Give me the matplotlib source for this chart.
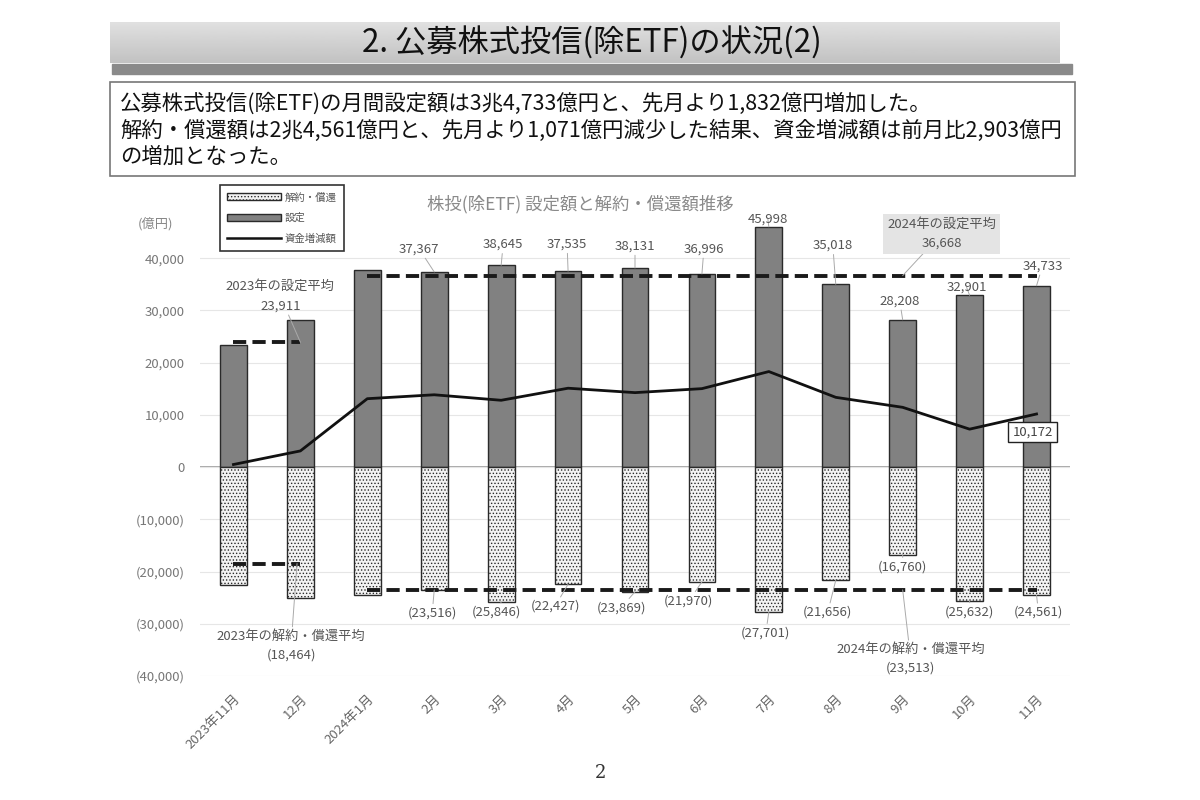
import matplotlib
matplotlib.use('Agg')
import matplotlib.pyplot as plt
from matplotlib.patches import Rectangle, Patch
from matplotlib.lines import Line2D
from matplotlib.ticker import FuncFormatter
import numpy as np

plt.rcParams['font.family'] = ['Noto Sans CJK JP', 'DejaVu Sans']
plt.rcParams['hatch.linewidth'] = 0.6
plt.rcParams['hatch.color'] = '#333333'

# data (億円)
months = ['2023年11月', '12月', '2024年1月', '2月', '3月', '4月', '5月',
          '6月', '7月', '8月', '9月', '10月', '11月']
settei = [23400, 28100, 37800, 37367, 38645, 37535, 38131, 36996, 45998,
          35018, 28208, 32901, 34733]
kaiyaku = [22600, 25000, 24500, 23516, 25846, 22427, 23869, 21970, 27701,
           21656, 16760, 25632, 24561]
net_flow = [500, 3100, 13100, 13851, 12799, 15108, 14262, 15026, 18297,
            13362, 11448, 7269, 10172]
avg_settei_2023 = 23911
avg_kaiyaku_2023 = 18464
avg_settei_2024 = 36668
avg_kaiyaku_2024 = 23513

# label placement (offset in pixels from bar end), only Feb..Nov 2024 labelled
settei_off = {3: (-15, 23), 4: (2, 21), 5: (-1, 27), 6: (0, 22), 7: (2, 25),
              8: (-1, 8), 9: (-3, 39), 10: (-3, 19), 11: (-3, 8), 12: (6, 20)}
kaiyaku_off = {3: (-2, -23), 4: (-5, -10), 5: (-13, -22), 6: (-14, -16),
               7: (-13, -19), 8: (-3, -21), 9: (-8, -32), 10: (0, -12),
               11: (0, -11), 12: (2, -17)}

fig = plt.figure(figsize=(12, 8), dpi=100)

# page decoration, drawn in pixel coords
bg = fig.add_axes([0, 0, 1, 1], zorder=-1)
bg.set_xlim(0, 1200)
bg.set_ylim(800, 0)
bg.axis('off')
grad = np.linspace(0.88, 0.76, 50).reshape(-1, 1)
bg.imshow(grad, extent=(110, 1060, 63, 22), cmap='gray', vmin=0, vmax=1,
          aspect='auto')
bg.add_patch(Rectangle((112, 64), 960, 10, color='#8a8a8a'))
bg.text(592, 43, '2. 公募株式投信(除ETF)の状況(2)', ha='center', va='center',
        fontsize=22.5, color='#111111')
bg.add_patch(Rectangle((110, 82), 965, 94, facecolor='white',
                       edgecolor='#777777', lw=1.2))
lines = ['公募株式投信(除ETF)の月間設定額は3兆4,733億円と、先月より1,832億円増加した。',
         '解約・償還額は2兆4,561億円と、先月より1,071億円減少した結果、資金増減額は前月比2,903億円',
         'の増加となった。']
for i, s in enumerate(lines):
    bg.text(120, 104 + i * 26.5, s, ha='left', va='center', fontsize=15.4,
            color='#111111')
bg.text(600, 773, '2', ha='center', va='center', fontsize=13,
        family='DejaVu Serif', color='#333333')

# chart
ax = fig.add_axes([200 / 1200, 124 / 800, 870 / 1200, 470 / 800])
x = np.arange(len(months))
w = 0.4
ax.bar(x, settei, w, color='#818181', edgecolor='#2a2a2a', lw=1, zorder=2)
ax.bar(x, [-v for v in kaiyaku], w, color='#f3f3f3', edgecolor='#2a2a2a',
       lw=1, hatch='.....', zorder=2)
ax.plot(x, net_flow, color='#111111', lw=2, zorder=4)

dash = dict(ls='--', color='#1a1a1a', lw=2.8, dashes=(3.4, 1.6), zorder=5)
ax.plot([0, 1], [avg_settei_2023] * 2, **dash)
ax.plot([0, 1], [-avg_kaiyaku_2023] * 2, **dash)
ax.plot([2, 12], [avg_settei_2024] * 2, **dash)
ax.plot([2, 12], [-avg_kaiyaku_2024] * 2, **dash)

ax.set_xlim(-0.5, len(months) - 0.5)
ax.set_ylim(-40000, 50000)
ax.set_yticks(range(-40000, 40001, 10000))
ax.yaxis.set_major_formatter(FuncFormatter(
    lambda v, p: '0' if v == 0 else (f'({abs(v):,.0f})' if v < 0 else f'{v:,.0f}')))
ax.tick_params(axis='y', length=0, pad=11, labelsize=9.5, labelcolor='#777777')
ax.set_xticks(x)
ax.set_xticklabels(months, rotation=45, ha='right', va='top',
                   rotation_mode='anchor', fontsize=9.5, color='#666666')
ax.tick_params(axis='x', length=0, pad=12)
ax.grid(axis='y', color='#e6e6e6', lw=0.8, zorder=0)
ax.axhline(0, color='#999999', lw=1.2, zorder=1)
for s in ax.spines.values():
    s.set_visible(False)
ax.set_facecolor('none')

lead = dict(arrowstyle='-', color='#aaaaaa', lw=0.7, shrinkA=0, shrinkB=0)
for i in range(3, 13):
    ax.annotate(f'{settei[i]:,}', (x[i], settei[i]), xytext=settei_off[i],
                textcoords='offset pixels', ha='center', va='center',
                fontsize=9.5, color='#555555', arrowprops=lead, zorder=6)
    ax.annotate(f'({kaiyaku[i]:,})', (x[i], -kaiyaku[i]), xytext=kaiyaku_off[i],
                textcoords='offset pixels', ha='center', va='center',
                fontsize=9.5, color='#555555', arrowprops=lead, zorder=6)

ax.annotate(f'{net_flow[-1]:,}', (x[-1], net_flow[-1]), xytext=(-4, -18),
            textcoords='offset pixels', ha='center', va='center', fontsize=9.5,
            color='#444444', zorder=7,
            bbox=dict(boxstyle='square,pad=0.3', fc='white', ec='#222222', lw=1))

# average call-outs
ax.annotate(f'2023年の設定平均\n{avg_settei_2023:,}', (1, avg_settei_2023),
            xytext=(-20, 46), textcoords='offset pixels', ha='center',
            va='center', fontsize=9.5, color='#555555', linespacing=1.6,
            arrowprops=lead, zorder=6)
ax.annotate(f'2024年の設定平均\n{avg_settei_2024:,}', (10.0, avg_settei_2024),
            xytext=(39, 42), textcoords='offset pixels', ha='center',
            va='center', fontsize=9.5, color='#555555', linespacing=1.6,
            arrowprops=lead, zorder=6,
            bbox=dict(boxstyle='square,pad=0.3', fc='#e4e4e4', ec='none'))
ax.annotate(f'2023年の解約・償還平均\n({avg_kaiyaku_2023:,})', (0.95, -avg_kaiyaku_2023),
            xytext=(-6, -82), textcoords='offset pixels', ha='center',
            va='center', fontsize=9.5, color='#555555', linespacing=1.6,
            arrowprops=lead, zorder=6)
ax.annotate(f'2024年の解約・償還平均\n({avg_kaiyaku_2024:,})', (10.0, -avg_kaiyaku_2024),
            xytext=(8, -69), textcoords='offset pixels', ha='center',
            va='center', fontsize=9.5, color='#555555', linespacing=1.6,
            arrowprops=lead, zorder=6)

fig.text(580 / 1200, 1 - 204 / 800, '株投(除ETF) 設定額と解約・償還額推移',
         ha='center', va='center', fontsize=12.5, color='#8a8a8a')
fig.text(155 / 1200, 1 - 224 / 800, '(億円)', ha='center', va='center',
         fontsize=9.5, color='#888888')

handles = [Patch(facecolor='#f3f3f3', edgecolor='#2a2a2a', hatch='.....'),
           Patch(facecolor='#818181', edgecolor='#2a2a2a'),
           Line2D([], [], color='#111111', lw=1.8)]
leg = ax.legend(handles, ['解約・償還', '設定', '資金増減額'], loc='upper left',
                bbox_to_anchor=(220 / 1200, 1 - 185 / 800),
                bbox_transform=fig.transFigure, borderaxespad=0, fontsize=7.5,
                handlelength=5.2, handleheight=0.7, labelspacing=1.0,
                handletextpad=0.3, fancybox=False, framealpha=1,
                edgecolor='#333333', borderpad=0.7)
leg.get_frame().set_linewidth(1.2)
for t in leg.get_texts():
    t.set_color('#555555')

fig.savefig('out.png', dpi=100)
